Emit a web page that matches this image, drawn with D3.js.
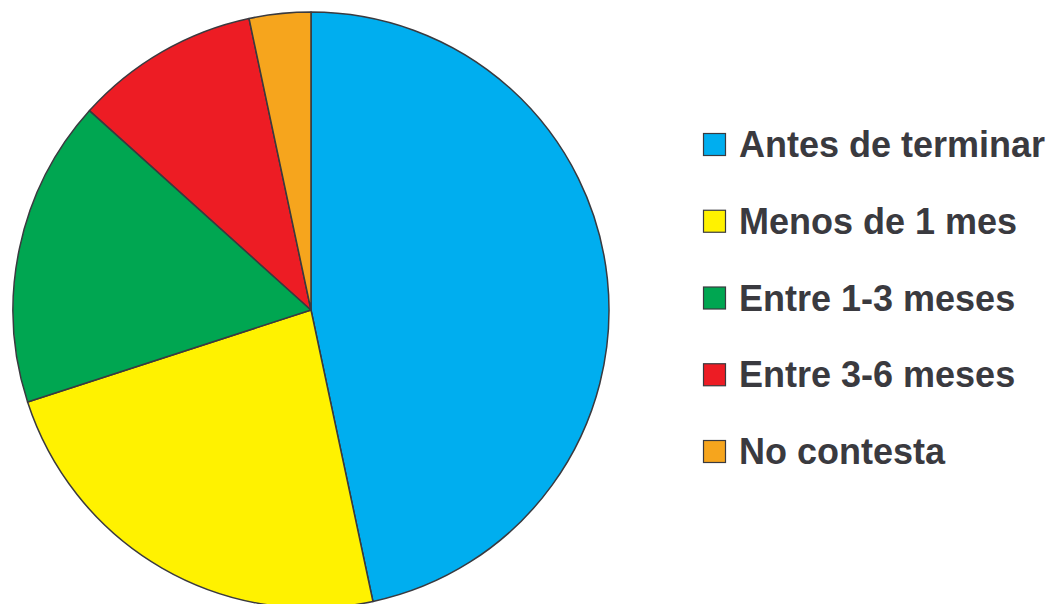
<!DOCTYPE html>
<html>
<head>
<meta charset="utf-8">
<script src="https://cdn.jsdelivr.net/npm/d3@7"></script>
<style>
  body { margin: 0; background: #fff; }
  svg { display: block; }
</style>
</head>
<body>
<div id="chart"></div>
<script>
// respuestas (n = 30)
const categories = ["Antes de terminar", "Menos de 1 mes", "Entre 1-3 meses", "Entre 3-6 meses", "No contesta"];
const values = [14, 7, 5, 3, 1];
const colors = ["#00aeef", "#fff200", "#00a651", "#ed1c24", "#f6a51d"];

const width = 1053;
const height = 604;
const cx = 311, cy = 310, radius = 298;

const data = categories.map(function(c, i) {
    return {label: c, value: values[i], color: colors[i]};
});

const svg = d3.select("#chart")
    .append("svg")
    .attr("width", width)
    .attr("height", height);

const pie = d3.pie()
    .sort(null)
    .value(function(d) { return d.value; });

const arc = d3.arc()
    .innerRadius(0)
    .outerRadius(radius);

svg.append("g")
    .attr("transform", "translate(" + cx + "," + cy + ")")
    .selectAll("path")
    .data(pie(data))
    .enter()
    .append("path")
    .attr("d", arc)
    .attr("fill", function(d) { return d.data.color; })
    .attr("stroke", "#3a3a3f")
    .attr("stroke-width", 1.5)
    .attr("stroke-linejoin", "round");

// legend
const legendY = d3.scalePoint()
    .domain(categories)
    .range([144.5, 451.5]);

const legend = svg.append("g")
    .selectAll("g")
    .data(data)
    .enter()
    .append("g")
    .attr("transform", function(d) { return "translate(703," + legendY(d.label) + ")"; });

legend.append("rect")
    .attr("x", 0.5)
    .attr("y", -11)
    .attr("width", 22)
    .attr("height", 22)
    .attr("fill", function(d) { return d.color; })
    .attr("stroke", "#3a3a3f")
    .attr("stroke-width", 1.2);

legend.append("text")
    .attr("x", 36)
    .attr("y", 12.5)
    .attr("font-family", "'Liberation Sans', Arial, sans-serif")
    .attr("font-weight", "bold")
    .attr("font-size", 36)
    .attr("fill", "#3a3a3f")
    .text(function(d) { return d.label; });
</script>
</body>
</html>
